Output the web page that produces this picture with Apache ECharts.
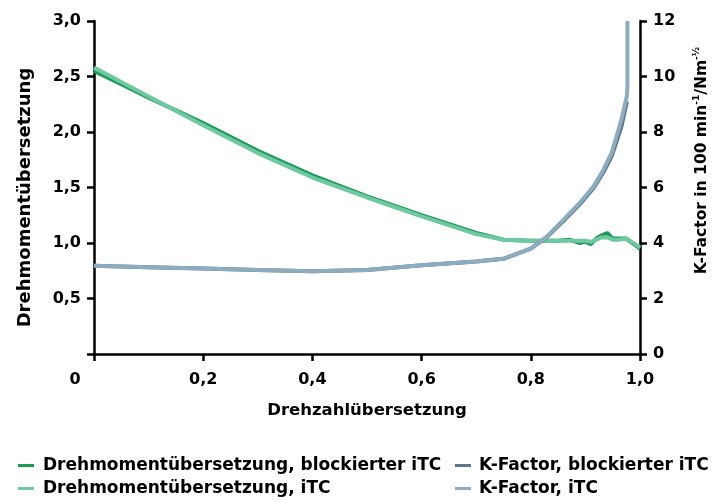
<!DOCTYPE html>
<html>
<head>
<meta charset="utf-8">
<script src="https://cdn.jsdelivr.net/npm/echarts@6/dist/echarts.min.js"></script>
<style>html,body{margin:0;padding:0;background:#fff}#c{width:719px;height:502px}</style>
</head>
<body>
<div id="c"></div>
<script>
// ---- data ----
var seriesNames = ['Drehmomentübersetzung, blockierter iTC', 'Drehmomentübersetzung, iTC', 'K-Factor, blockierter iTC', 'K-Factor, iTC'];
var xTicks = [0, 0.2, 0.4, 0.6, 0.8, 1.0];
var torqueX = [0, 0.05, 0.1, 0.2, 0.3, 0.4, 0.5, 0.6, 0.7, 0.75, 0.8, 0.85, 0.87, 0.89, 0.9, 0.91, 0.92, 0.93, 0.94, 0.95, 0.96, 0.975, 1.0];
var torqueBlocked = [2.55, 2.43, 2.31, 2.08, 1.83, 1.61, 1.42, 1.25, 1.09, 1.03, 1.02, 1.02, 1.03, 1.0, 1.01, 0.99, 1.04, 1.07, 1.09, 1.04, 1.04, 1.04, 0.95];
var torqueITC = [2.58, 2.45, 2.32, 2.06, 1.81, 1.59, 1.41, 1.24, 1.08, 1.03, 1.02, 1.02, 1.02, 1.02, 1.02, 1.01, 1.03, 1.05, 1.05, 1.03, 1.03, 1.04, 0.96];
var kX = [0, 0.1, 0.2, 0.3, 0.4, 0.5, 0.6, 0.7, 0.75, 0.8, 0.83, 0.86, 0.89, 0.915, 0.933, 0.948, 0.957, 0.966, 0.976];
var kBlocked = [3.18, 3.13, 3.08, 3.03, 2.98, 3.03, 3.2, 3.33, 3.43, 3.8, 4.22, 4.8, 5.4, 5.98, 6.55, 7.12, 7.65, 8.2, 9.1];
var kITCX = [0, 0.1, 0.2, 0.3, 0.4, 0.5, 0.6, 0.7, 0.75, 0.8, 0.83, 0.86, 0.89, 0.915, 0.933, 0.948, 0.957, 0.966, 0.976, 0.977, 0.977];
var kITC = [3.18, 3.13, 3.08, 3.03, 2.98, 3.03, 3.2, 3.33, 3.43, 3.8, 4.24, 4.84, 5.45, 6.04, 6.64, 7.25, 7.84, 8.45, 9.3, 9.65, 12];

function pairs(xs, ys) { return xs.map(function (x, i) { return [x, ys[i]]; }); }
var F = 'DejaVu Sans';
var colors = ['#1b9a5a', '#6fc9a0', '#5d7689', '#8dacbf'];

var chart = echarts.init(document.getElementById('c'));
chart.setOption({
  animation: false,
  grid: { left: 94, right: 79, top: 21, bottom: 148 },
  xAxis: {
    type: 'value', min: 0, max: 1, interval: 0.2,
    name: 'Drehzahlübersetzung', nameLocation: 'middle', nameGap: 48,
    nameTextStyle: { fontFamily: F, fontWeight: 'bold', fontSize: 16.5, color: '#000' },
    axisLine: { lineStyle: { color: '#000', width: 2.5 } },
    axisTick: { length: 7, lineStyle: { color: '#000', width: 2.5 } },
    splitLine: { show: false },
    axisLabel: {
      margin: 18, fontFamily: F, fontWeight: 'bold', fontSize: 16, color: '#000',
      formatter: function (v) { return v === 0 ? '{o|0}' : v.toFixed(1).replace('.', ','); },
      rich: { o: { fontFamily: F, fontWeight: 'bold', fontSize: 16, color: '#000', padding: [0, 38, 0, 0] } }
    }
  },
  yAxis: [{
    type: 'value', min: 0, max: 3, interval: 0.5, position: 'left',
    name: 'Drehmomentübersetzung', nameLocation: 'middle', nameGap: 60, nameRotate: 90,
    nameTextStyle: { fontFamily: F, fontWeight: 'bold', fontSize: 18, color: '#000', padding: [0, 20, 0, 0] },
    axisLine: { show: true, lineStyle: { color: '#000', width: 2.5 } },
    axisTick: { show: true, length: 7, lineStyle: { color: '#000', width: 2.5 } },
    splitLine: { show: false },
    axisLabel: {
      margin: 13, fontFamily: F, fontWeight: 'bold', fontSize: 16, color: '#000',
      formatter: function (v) { return v === 0 ? '' : v.toFixed(1).replace('.', ','); }
    }
  }, {
    type: 'value', min: 0, max: 12, interval: 2, position: 'right',
    name: '{a|K-Factor in 100 min}{s|-1}{a|/Nm}{s|-½}', nameLocation: 'middle', nameGap: 52, nameRotate: 90,
    nameTextStyle: {
      fontFamily: F, fontWeight: 'bold', fontSize: 15.5, color: '#000', padding: [0, 0, 0, 54],
      rich: {
        a: { fontFamily: F, fontWeight: 'bold', fontSize: 15.5, color: '#000', lineHeight: 20 },
        s: { fontFamily: F, fontWeight: 'bold', fontSize: 9, color: '#000', verticalAlign: 'top', lineHeight: 20 }
      }
    },
    axisLine: { show: true, lineStyle: { color: '#000', width: 2.5 } },
    axisTick: { show: true, length: 7, lineStyle: { color: '#000', width: 2.5 } },
    splitLine: { show: false },
    axisLabel: { margin: 13, fontFamily: F, fontWeight: 'bold', fontSize: 16, color: '#000' }
  }],
  legend: [{
    data: [seriesNames[0], seriesNames[1]], orient: 'vertical', left: 18, top: 457, padding: 0, height: 60,
    icon: 'rect', itemWidth: 16, itemHeight: 3, itemGap: 6,
    textStyle: { fontFamily: F, fontWeight: 'bold', fontSize: 17, color: '#000', padding: [0, 0, 0, 4] }
  }, {
    data: [seriesNames[2], seriesNames[3]], orient: 'vertical', left: 455, top: 457, padding: 0, height: 60,
    icon: 'rect', itemWidth: 16, itemHeight: 3, itemGap: 6,
    textStyle: { fontFamily: F, fontWeight: 'bold', fontSize: 17, color: '#000', padding: [0, 0, 0, 3] }
  }],
  series: [
    { name: seriesNames[0], type: 'line', yAxisIndex: 0, data: pairs(torqueX, torqueBlocked), showSymbol: false, symbol: 'none', lineStyle: { color: colors[0], width: 4 }, itemStyle: { color: colors[0] }, z: 2 },
    { name: seriesNames[1], type: 'line', yAxisIndex: 0, data: pairs(torqueX, torqueITC), showSymbol: false, symbol: 'none', lineStyle: { color: colors[1], width: 4 }, itemStyle: { color: colors[1] }, z: 3 },
    { name: seriesNames[2], type: 'line', yAxisIndex: 1, data: pairs(kX, kBlocked), showSymbol: false, symbol: 'none', lineStyle: { color: colors[2], width: 4 }, itemStyle: { color: colors[2] }, z: 4 },
    { name: seriesNames[3], type: 'line', yAxisIndex: 1, data: pairs(kITCX, kITC), showSymbol: false, symbol: 'none', lineStyle: { color: colors[3], width: 4 }, itemStyle: { color: colors[3] }, z: 5 }
  ]
});
</script>
</body>
</html>
